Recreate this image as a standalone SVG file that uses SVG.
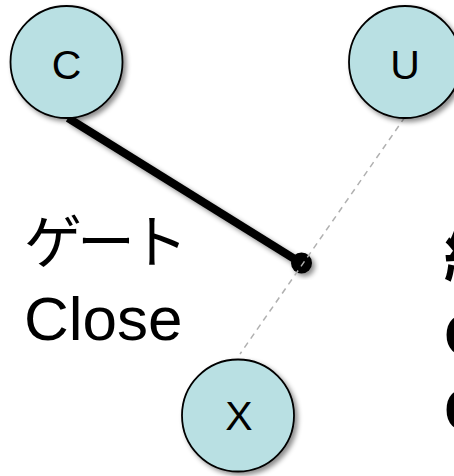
<svg xmlns="http://www.w3.org/2000/svg" width="454" height="476" viewBox="0 0 454 476">
  <defs>
    <filter id="sh" x="-30%" y="-30%" width="160%" height="160%">
      <feDropShadow dx="3" dy="3" stdDeviation="2.5" flood-color="#000" flood-opacity="0.45"/>
    </filter>
    <style>
      .node circle { fill: #b9e0e3; stroke: #000; stroke-width: 1.8; filter: url(#sh); }
      .node text { font-family: "Liberation Sans", Arial, sans-serif; font-size: 41px; text-anchor: middle; fill: #000; }
      .lbl { font-family: "Liberation Sans", "Noto Sans CJK JP", sans-serif; font-size: 62px; fill: #000; }
      .lblj { font-family: "Noto Sans CJK JP", sans-serif; font-size: 58px; letter-spacing: -5px; fill: #000; }
      .lblb { font-family: "Liberation Sans", "Noto Sans CJK JP", sans-serif; font-size: 62px; font-weight: bold; fill: #000; }
    </style>
  </defs>
  <rect width="454" height="476" fill="#fff"/>
  <g id="connectors">
    <line x1="68" y1="118" x2="301" y2="263" stroke="#000" stroke-width="8" filter="url(#sh)"/>
    <circle cx="301.5" cy="263" r="10.5" fill="#000" filter="url(#sh)"/>
    <line x1="405" y1="117" x2="240" y2="354" stroke="#b0b0b0" stroke-width="1.5" stroke-dasharray="6,5"/>
  </g>
  <g id="node-C" class="node">
    <circle cx="66.5" cy="62" r="56"/>
    <text x="66.5" y="79">C</text>
  </g>
  <g id="node-U" class="node">
    <circle cx="405" cy="62" r="56"/>
    <text x="405" y="79">U</text>
  </g>
  <g id="node-X" class="node">
    <circle cx="238" cy="415.5" r="56"/>
    <text x="239" y="430">X</text>
  </g>
  <g id="label-gate">
    <text class="lblj" x="24" y="263">ゲート</text>
    <text class="lbl" x="24" y="340">Close</text>
  </g>
  <g id="label-right">
    <text class="lblb" x="444" y="281">給電</text>
    <text class="lblb" x="444" y="356">Open</text>
    <text class="lblb" x="444" y="431">Close</text>
  </g>
</svg>
